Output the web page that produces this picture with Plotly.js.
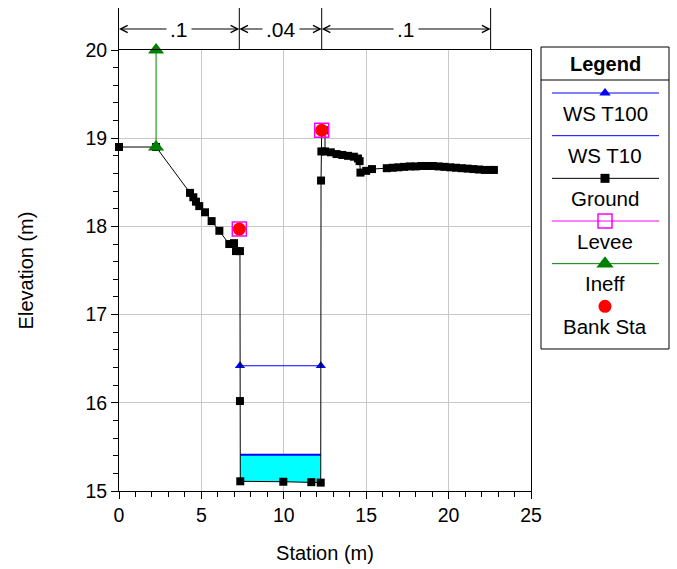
<!DOCTYPE html>
<html><head><meta charset="utf-8">
<script src="https://cdn.plot.ly/plotly-3.0.1.min.js"></script>
<style>html,body{margin:0;padding:0;background:#fff}#chart{width:677px;height:569px}</style>
</head><body><div id="chart"></div>
<script>
// ---- data ----
const groundX = [0, 2.25, 4.31, 4.51, 4.67, 4.87, 5.22, 5.62, 6.09, 6.69, 6.98, 7.1, 7.34, 7.34, 7.36, 9.97, 11.67, 12.24,
  12.26, 12.28, 12.3, 12.5, 12.5, 12.85, 13.2, 13.55, 13.9, 14.25, 14.5, 14.6, 14.65, 15.0, 15.35,
  16.25, 16.6, 16.95, 17.3, 17.65, 18.0, 18.35, 18.7, 19.05, 19.4, 19.75, 20.1, 20.45, 20.8, 21.15, 21.5, 21.85, 22.2, 22.55, 22.75];
const groundY = [18.9, 18.9, 18.38, 18.33, 18.28, 18.23, 18.16, 18.06, 17.95, 17.80, 17.81, 17.72, 17.72, 16.02, 15.11, 15.105, 15.10, 15.095,
  18.52, 18.85, 19.09, 19.09, 18.85, 18.84, 18.82, 18.81, 18.80, 18.79, 18.77, 18.74, 18.61, 18.63, 18.65,
  18.66, 18.665, 18.67, 18.675, 18.68, 18.68, 18.685, 18.685, 18.685, 18.68, 18.675, 18.67, 18.665, 18.66, 18.655, 18.65, 18.645, 18.64, 18.64, 18.64];
const wsT100 = 16.42;
const wsT10 = 15.41;
const bankX = [7.3, 12.3];
const bankY = [17.97, 19.09];
const leveeX = [7.3, 12.3];
const leveeY = [17.97, 19.09];
const ineffX = [2.25, 2.25];
const ineffY = [18.9, 20.0];
const nStations = [0, 7.3, 12.3, 22.55];
const nValues = ['.1', '.04', '.1'];
const legendNames = ['WS T100', 'WS T10', 'Ground', 'Levee', 'Ineff', 'Bank Sta'];

// ---- helpers ----
function waterEdges(ws) {
  const edge = [];
  for (let i = 0; i < groundX.length - 1; i++) {
    const xa = groundX[i], ya = groundY[i], xb = groundX[i + 1], yb = groundY[i + 1];
    if (xa < bankX[0] || xb > bankX[1]) continue;
    if ((ya - ws) * (yb - ws) < 0) {
      const t = (ws - ya) / (yb - ya);
      edge.push(xa + t * (xb - xa));
    }
  }
  return [edge[0], edge[edge.length - 1]];
}
function wetPolygon(ws) {
  const [L, R] = waterEdges(ws);
  const px = [L], py = [ws];
  for (let i = 0; i < groundX.length; i++) {
    if (groundX[i] > L && groundX[i] < R && groundY[i] < ws) { px.push(groundX[i]); py.push(groundY[i]); }
  }
  px.push(R); py.push(ws);
  return {x: px, y: py};
}

const e100 = waterEdges(wsT100);
const e10 = waterEdges(wsT10);
const poly10 = wetPolygon(wsT10);

const BLUE = '#0000ff', GREEN = '#008000', MAG = '#ff00ff', RED = '#ff0000';
const FONT = '"Liberation Sans", Arial, sans-serif';

const traces = [
  {x: poly10.x, y: poly10.y, mode: 'lines', fill: 'toself', fillcolor: '#00ffff', line: {width: 0}, hoverinfo: 'skip'},
  {x: e10, y: [wsT10, wsT10], mode: 'lines', line: {color: BLUE, width: 2}},
  {x: e100, y: [wsT100, wsT100], mode: 'lines+markers', cliponaxis: false, line: {color: BLUE, width: 1}, marker: {symbol: 'triangle-up', size: 9, color: BLUE}},
  {x: groundX, y: groundY, mode: 'lines+markers', cliponaxis: false, line: {color: '#000', width: 1}, marker: {symbol: 'square', size: 8, color: '#000'}},
  {x: leveeX, y: leveeY, mode: 'markers', cliponaxis: false, marker: {symbol: 'square-open', size: 14, color: MAG, line: {width: 1.5, color: MAG}}},
  {x: ineffX, y: ineffY, mode: 'lines+markers', cliponaxis: false, line: {color: GREEN, width: 1}, marker: {symbol: 'triangle-up', size: 14, color: GREEN}},
  {x: bankX, y: bankY, mode: 'markers', cliponaxis: false, marker: {symbol: 'circle', size: 13, color: RED}},
];

// n-value region vertical lines
const vx = [], vy = [];
nStations.slice(1).forEach(s => { vx.push(s, s, null); vy.push(0, 1, null); });
traces.push({x: vx, y: vy, xaxis: 'x2', yaxis: 'y2', mode: 'lines', line: {color: '#000', width: 1}, hoverinfo: 'skip'});

// legend samples (line + centred marker)
const legStyles = [
  {line: {color: BLUE, width: 1}, marker: {symbol: 'triangle-up', size: 10, color: BLUE}},
  {line: {color: BLUE, width: 1}},
  {line: {color: '#000', width: 1}, marker: {symbol: 'square', size: 9, color: '#000'}},
  {line: {color: MAG, width: 1}, marker: {symbol: 'square-open', size: 14, color: MAG, line: {width: 1.5, color: MAG}}},
  {line: {color: GREEN, width: 1}, marker: {symbol: 'triangle-up', size: 15, color: GREEN}},
  {marker: {symbol: 'circle', size: 13, color: RED}},
];
legendNames.forEach((nm, i) => {
  const st = legStyles[i];
  if (st.line) traces.push({xaxis: 'x3', yaxis: 'y3', hoverinfo: 'skip', mode: 'lines', x: [0.086, 0.922], y: [i, i], line: st.line});
  if (st.marker) traces.push({xaxis: 'x3', yaxis: 'y3', hoverinfo: 'skip', mode: 'markers', x: [0.5], y: [i], marker: st.marker, cliponaxis: false});
});

const annotations = [];
// arrows
for (let i = 0; i < nValues.length; i++) {
  const a = nStations[i], b = nStations[i + 1], m = (a + b) / 2;
  [a, b].forEach(end => annotations.push({
    xref: 'x2', yref: 'y2', x: end, y: 0.5, axref: 'x2', ayref: 'y2', ax: m, ay: 0.5,
    text: '', showarrow: true, arrowhead: 5, arrowsize: 1.4, arrowwidth: 1, arrowcolor: '#000', standoff: 0, startstandoff: 0
  }));
}
for (let i = 0; i < nValues.length; i++) {
  const m = (nStations[i] + nStations[i + 1]) / 2;
  annotations.push({xref: 'x2', yref: 'y2', x: m, y: 0.5, text: nValues[i], showarrow: false, bgcolor: '#fff', borderpad: 3,
    xanchor: 'center', yanchor: 'middle', font: {size: 21, color: '#000'}});
}
// legend title & labels
annotations.push({xref: 'paper', yref: 'paper', x: 605 / 677, y: 1 - 64 / 569, xanchor: 'center', yanchor: 'middle',
  text: '<b>Legend</b>', showarrow: false, font: {size: 20}});
legendNames.forEach((nm, i) => annotations.push({xref: 'x3', yref: 'y3', x: 0.5, y: i + 0.47, xanchor: 'center', yanchor: 'middle',
  text: nm, showarrow: false, font: {size: 20.5}}));

const layout = {
  width: 677, height: 569,
  margin: {l: 0, r: 0, t: 0, b: 0},
  paper_bgcolor: '#fff', plot_bgcolor: '#fff',
  font: {family: FONT, color: '#000', size: 19},
  showlegend: false,
  xaxis: {domain: [119 / 677, 531 / 677], anchor: 'y', range: [0, 25], tick0: 0, dtick: 5, ticks: 'outside', ticklen: 7, tickcolor: '#000',
    showline: true, linecolor: '#000', linewidth: 1, mirror: true, showgrid: true, gridcolor: '#c8c8c8', zeroline: false,
    minor: {dtick: 1, ticks: 'outside', ticklen: 5, tickcolor: '#000', showgrid: false},
    tickfont: {size: 19.5}, title: {text: 'Station (m)', font: {size: 20}, standoff: 20}, automargin: false},
  yaxis: {domain: [1 - 491 / 569, 1 - 50 / 569], anchor: 'x', range: [15, 20], tick0: 15, dtick: 1, ticks: 'outside', ticklen: 7, tickcolor: '#000',
    showline: true, linecolor: '#000', linewidth: 1, mirror: true, showgrid: true, gridcolor: '#c8c8c8', zeroline: false,
    minor: {dtick: 0.2, ticks: 'outside', ticklen: 5, tickcolor: '#000', showgrid: false},
    tickfont: {size: 19.5}, title: {text: 'Elevation (m)', font: {size: 20}, standoff: 46}, automargin: false},
  xaxis2: {domain: [119 / 677, 531 / 677], anchor: 'y2', range: [0, 25], visible: false},
  yaxis2: {domain: [1 - 50 / 569, 1 - 8 / 569], anchor: 'x2', range: [0, 1], showline: true, linecolor: '#000', linewidth: 1,
    showgrid: false, zeroline: false, showticklabels: false, ticks: ''},
  xaxis3: {domain: [541 / 677, 669 / 677], anchor: 'y3', range: [0, 1], visible: false},
  yaxis3: {domain: [1 - 349 / 569, 1 - 80 / 569], anchor: 'x3', range: [6.0, -0.305], visible: false},
  shapes: [
    {type: 'rect', xref: 'paper', yref: 'paper', x0: 541 / 677, x1: 669 / 677, y0: 1 - 349 / 569, y1: 1 - 47 / 569, line: {color: '#000', width: 1}},
    {type: 'line', xref: 'paper', yref: 'paper', x0: 541 / 677, x1: 669 / 677, y0: 1 - 80 / 569, y1: 1 - 80 / 569, line: {color: '#000', width: 1}}
  ],
  annotations: annotations
};

Plotly.newPlot('chart', traces, layout, {staticPlot: true, displayModeBar: false});
</script>
</body></html>
